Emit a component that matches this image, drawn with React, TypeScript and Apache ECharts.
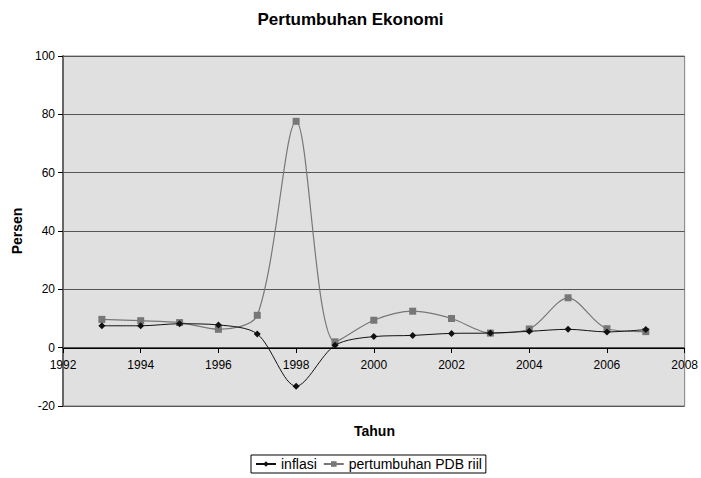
import React, { useEffect, useRef } from "react";
import * as echarts from "echarts";

const years = [1993, 1994, 1995, 1996, 1997, 1998, 1999, 2000, 2001, 2002, 2003, 2004, 2005, 2006, 2007];
const inflasi = [7.5, 7.5, 8.2, 7.8, 4.7, -13.2, 0.8, 3.8, 4.2, 4.9, 5.0, 5.6, 6.3, 5.4, 6.2];
const pdbRiil = [9.7, 9.25, 8.6, 6.3, 11.1, 77.6, 2.0, 9.4, 12.5, 10.0, 5.0, 6.4, 17.1, 6.5, 5.5];
const seriesNames = ["inflasi", "pertumbuhan PDB riil"];

export default function App() {
  const ref = useRef<HTMLDivElement>(null);
  useEffect(() => {
    document.body.style.margin = "0";
    const chart = echarts.init(ref.current!, null, { renderer: "svg" });
    const font = "Liberation Sans, Arial, sans-serif";
    chart.setOption({
      animation: false,
      textStyle: { fontFamily: font },
      title: {
        text: "Pertumbuhan Ekonomi",
        left: "center",
        top: 6,
        textStyle: { fontSize: 17, fontWeight: "bold", color: "#000", fontFamily: font },
      },
      grid: {
        left: 63,
        right: 15,
        top: 56,
        bottom: 72,
        show: true,
        backgroundColor: "#e0e0e0",
        borderColor: "#808080",
        borderWidth: 1,
      },
      legend: {
        top: 455,
        left: 251,
        data: seriesNames,
        borderColor: "#000",
        borderWidth: 1,
        borderRadius: 0,
        padding: [2, 4],
        itemGap: 6,
        itemWidth: 20,
        itemHeight: 7,
        textStyle: { fontSize: 14, color: "#000", fontFamily: font },
      },
      graphic: [
        {
          type: "text",
          x: 374.5,
          y: 431,
          style: {
            text: "Tahun",
            fontSize: 14,
            fontWeight: "bold",
            fill: "#000",
            fontFamily: font,
            textAlign: "center",
            textVerticalAlign: "middle",
          },
        },
      ],
      xAxis: {
        type: "value",
        min: 1992,
        max: 2008,
        interval: 2,
        position: "bottom",
        offset: -58,
        axisLine: { onZero: false, lineStyle: { color: "#000", width: 1 } },
        axisTick: { show: true, length: 5, lineStyle: { color: "#000" } },
        axisLabel: {
          fontSize: 12,
          color: "#000",
          margin: 11,
          showMinLabel: true,
          showMaxLabel: true,
          formatter: (v: number) => String(v),
        },
        splitLine: { show: false },
      },
      yAxis: {
        type: "value",
        min: -20,
        max: 100,
        interval: 20,
        name: "Persen",
        nameLocation: "middle",
        nameGap: 37,
        nameTextStyle: { fontSize: 14, fontWeight: "bold", color: "#000" },
        axisLine: { show: true, onZero: false, lineStyle: { color: "#666", width: 2 } },
        axisTick: { show: true, length: 5, lineStyle: { color: "#000" } },
        axisLabel: { fontSize: 12, color: "#000", margin: 8 },
        splitLine: { show: true, lineStyle: { color: "#555", width: 1 } },
      },
      series: [
        {
          name: seriesNames[0],
          type: "line",
          smooth: 0.3,
          data: years.map((y, i) => [y, inflasi[i]]),
          symbol: "diamond",
          symbolSize: 7,
          itemStyle: { color: "#111" },
          lineStyle: { color: "#111", width: 1 },
          z: 3,
        },
        {
          name: seriesNames[1],
          type: "line",
          smooth: 0.3,
          data: years.map((y, i) => [y, pdbRiil[i]]),
          symbol: "rect",
          symbolSize: 7,
          itemStyle: { color: "#777" },
          lineStyle: { color: "#777", width: 1.2 },
          z: 2,
        },
      ],
    });
    return () => chart.dispose();
  }, []);
  return <div ref={ref} style={{ width: 701, height: 478 }} />;
}
